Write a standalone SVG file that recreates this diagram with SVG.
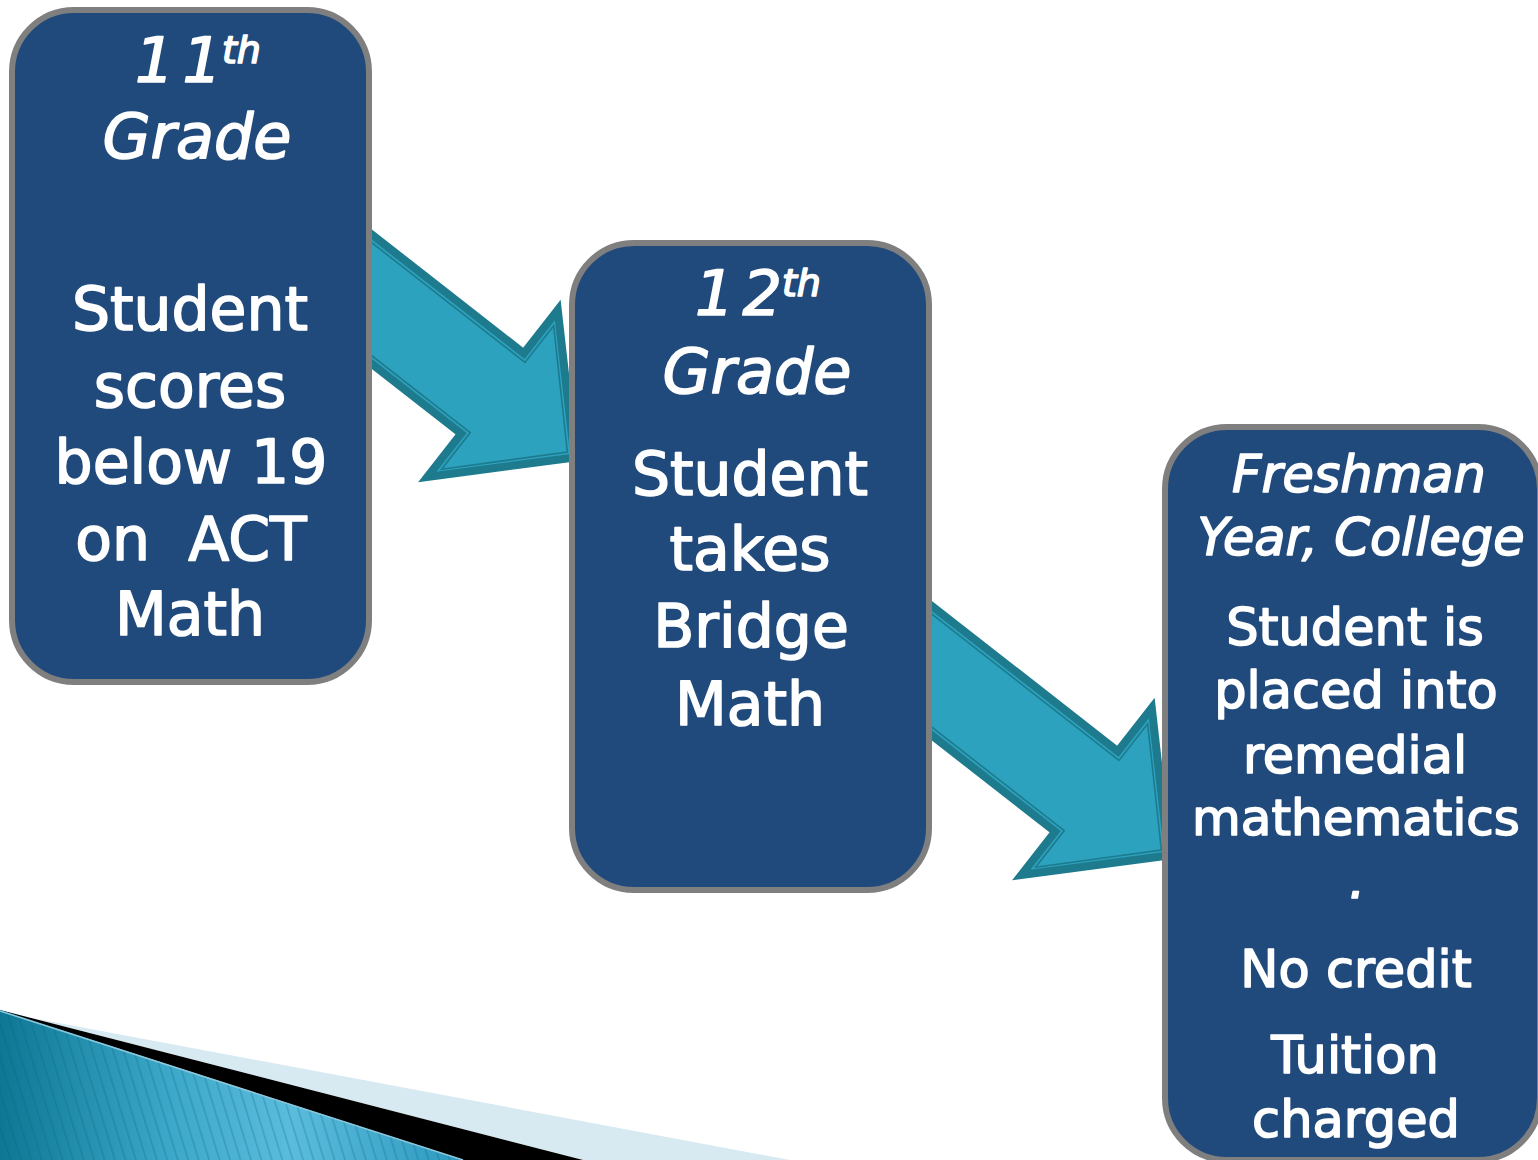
<svg xmlns="http://www.w3.org/2000/svg" width="1538" height="1160" viewBox="0 0 1538 1160">
  <defs>
    <style>
      .box { fill: #214a7c; stroke: #7f7f7f; stroke-width: 6; }
      .t { fill: #ffffff; stroke: #ffffff; stroke-width: 1.6; stroke-linejoin: round; font-family: "DejaVu Sans", "Liberation Sans", sans-serif; text-anchor: middle; }
      .it { font-style: italic; }
      .arrow-out { fill: #2ca2bf; stroke: #1e7a8d; stroke-width: 8; stroke-linejoin: miter; }
      .arrow-in { fill: none; stroke: #1e7a8d; stroke-width: 1.6; }
    </style>
    <linearGradient id="teal" gradientUnits="userSpaceOnUse" x1="0" y1="0" x2="470" y2="0">
      <stop offset="0" stop-color="#0d7794"/>
      <stop offset="0.35" stop-color="#3ba7c8"/>
      <stop offset="0.62" stop-color="#5bbcdd"/>
      <stop offset="1" stop-color="#2a98bd"/>
    </linearGradient>
    <pattern id="stripes" patternUnits="userSpaceOnUse" width="10" height="10" patternTransform="rotate(-17)">
      <rect x="0" y="0" width="1.6" height="10" fill="#0a5f7a" fill-opacity="0.28"/>
    </pattern>
    <g id="arrowShape">
      <polygon class="arrow-out" points="-300,-51 0,-51 0,-106 104,0 0,106 0,51 -300,51"/>
      <polygon class="arrow-in" points="-300,-44.5 6.5,-44.5 6.5,-91 95,0 6.5,91 6.5,44.5 -300,44.5"/>
    </g>
  </defs>

  <g id="swoosh">
    <polygon points="0,1012 790,1160 583,1160 0,1010" fill="#d7e9f1"/>
    <polygon points="0,1010 583,1160 463,1160 0,1011" fill="#000000"/>
    <polygon points="0,1010 463,1160 0,1160" fill="url(#teal)"/>
    <polygon points="0,1010 463,1160 0,1160" fill="url(#stripes)"/>
    <line x1="0" y1="1011" x2="463" y2="1160" stroke="#8cc8dc" stroke-width="1.5"/>
  </g>

  <g id="connectors">
    <use href="#arrowShape" transform="translate(492.5,393.5) rotate(38)"/>
    <use href="#arrowShape" transform="translate(1086.5,791.5) rotate(38)"/>
  </g>

  <g id="node-11th-grade">
    <rect class="box" x="12" y="10" width="357" height="672" rx="62" ry="62"/>
    <text class="t it" x="198" y="82" font-size="62"><tspan letter-spacing="8">1</tspan>1<tspan font-size="38" dy="-19">th</tspan></text>
    <text class="t it" x="197" y="158" font-size="62">Grade</text>
    <text class="t" x="190" y="330" font-size="60">Student</text>
    <text class="t" x="190" y="407" font-size="60">scores</text>
    <text class="t" x="191" y="483" font-size="60">below 19</text>
    <text class="t" x="191" y="560" font-size="60" xml:space="preserve">on  ACT</text>
    <text class="t" x="190" y="635" font-size="60">Math</text>
  </g>

  <g id="node-12th-grade">
    <rect class="box" x="572" y="243" width="357" height="647" rx="62" ry="62"/>
    <text class="t it" x="758" y="315" font-size="62"><tspan letter-spacing="8">1</tspan>2<tspan font-size="38" dy="-19">th</tspan></text>
    <text class="t it" x="757" y="393" font-size="62">Grade</text>
    <text class="t" x="750" y="495" font-size="60">Student</text>
    <text class="t" x="750" y="570" font-size="60">takes</text>
    <text class="t" x="751" y="647" font-size="60">Bridge</text>
    <text class="t" x="750" y="725" font-size="60">Math</text>
  </g>

  <g id="node-freshman-year">
    <rect class="box" x="1165" y="427" width="375" height="733" rx="62" ry="62"/>
    <text class="t it" x="1359" y="492" font-size="51">Freshman</text>
    <text class="t it" x="1361" y="555" font-size="51">Year, College</text>
    <text class="t" x="1355" y="645" font-size="51">Student is</text>
    <text class="t" x="1356" y="708" font-size="51">placed into</text>
    <text class="t" x="1355" y="773" font-size="51">remedial</text>
    <text class="t" x="1356" y="835" font-size="50">mathematics</text>
    <text class="t it" x="1357" y="898" font-size="51">.</text>
    <text class="t" x="1356" y="987" font-size="51">No credit</text>
    <text class="t" x="1355" y="1073" font-size="51">Tuition</text>
    <text class="t" x="1356" y="1137" font-size="51">charged</text>
  </g>
</svg>
